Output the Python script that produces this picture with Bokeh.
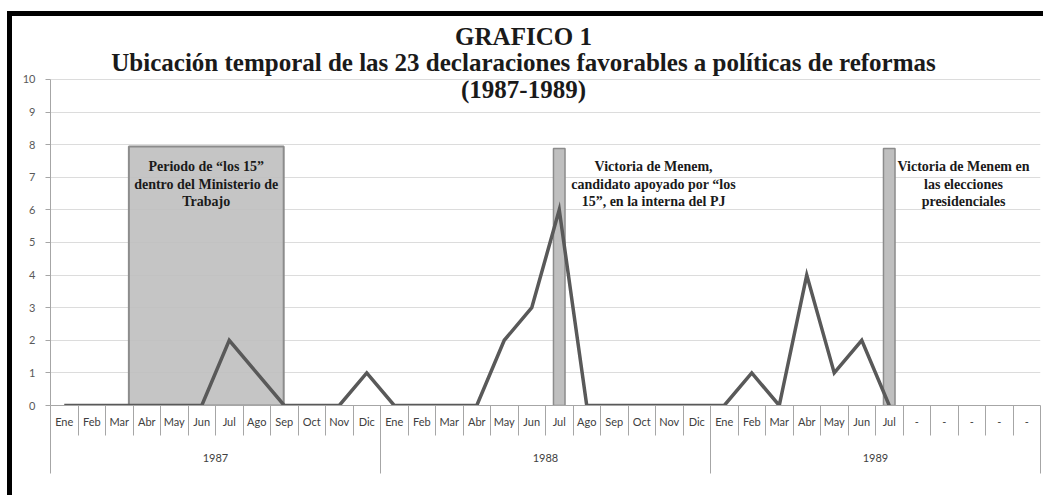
from bokeh.plotting import figure
from bokeh.models import Range1d, FixedTicker, LinearAxis, Label
from bokeh.embed import file_html
from bokeh.resources import INLINE

# ---- data ----
years = ["1987", "1988", "1989"]
months_1987 = ["Ene", "Feb", "Mar", "Abr", "May", "Jun", "Jul", "Ago", "Sep", "Oct", "Nov", "Dic"]
months_1988 = ["Ene", "Feb", "Mar", "Abr", "May", "Jun", "Jul", "Ago", "Sep", "Oct", "Nov", "Dic"]
months_1989 = ["Ene", "Feb", "Mar", "Abr", "May", "Jun", "Jul", "-", "-", "-", "-", "-"]
declaraciones_1987 = [0, 0, 0, 0, 0, 0, 2, 1, 0, 0, 0, 1]
declaraciones_1988 = [0, 0, 0, 0, 2, 3, 6, 0, 0, 0, 0, 0]
declaraciones_1989 = [0, 1, 0, 4, 1, 2, 0]
y_ticks = [0, 1, 2, 3, 4, 5, 6, 7, 8, 9, 10]
title_lines = ["GRAFICO 1",
               "Ubicación temporal de las 23 declaraciones favorables a políticas de reformas",
               "(1987-1989)"]
periodo_text = ["Periodo de \u201clos 15\u201d", "dentro del Ministerio de", "Trabajo"]
interna_text = ["Victoria de Menem,", "candidato apoyado por \u201clos", "15\u201d, en la interna del PJ"]
eleccion_text = ["Victoria de Menem en", "las elecciones", "presidenciales"]
event_months = [18, 30]          # Jul 1988, Jul 1989 (month index)

month_labels = months_1987 + months_1988 + months_1989
values = declaraciones_1987 + declaraciones_1988 + declaraciones_1989
n = len(month_labels)
centers = [i + 0.5 for i in range(n)]

p = figure(width=1036, height=484,
           x_range=Range1d(0, n), y_range=Range1d(0, 11.93),
           output_backend="svg", toolbar_location=None,
           min_border_left=38, min_border_right=8, min_border_top=0, min_border_bottom=95,
           background_fill_color="white", border_fill_color="white",
           styles={"margin-top": "11px", "margin-left": "7px",
                   "border-left": "5px solid black", "border-top": "5px solid black"})
p.title.visible = False
p.outline_line_color = None
p.xgrid.visible = False
p.ygrid.grid_line_color = "#dcdcdc"
p.ygrid.grid_line_width = 1

# y axis
yax = p.yaxis[0]
yax.ticker = FixedTicker(ticks=y_ticks)
yax.bounds = (0, 10)
yax.axis_line_color = "#a6a6a6"
yax.major_tick_line_color = "#a6a6a6"
yax.major_tick_out = 5
yax.major_tick_in = 0
yax.minor_tick_line_color = None
yax.major_label_standoff = 10
yax.major_label_text_font = "Lato"
yax.major_label_text_font_size = "11px"
yax.major_label_text_color = "#595959"

# month axis
xa = p.xaxis[0]
xa.ticker = FixedTicker(ticks=centers, minor_ticks=list(range(n + 1)))
xa.major_label_overrides = {c: lab for c, lab in zip(centers, month_labels)}
xa.axis_line_color = "#a6a6a6"
xa.major_tick_line_color = None
xa.major_tick_out = 0
xa.major_tick_in = 0
xa.minor_tick_line_color = "#a6a6a6"
xa.minor_tick_out = 0
xa.minor_tick_in = -30
xa.major_label_standoff = 9
xa.major_label_text_font = "Lato"
xa.major_label_text_font_size = "11px"
xa.major_label_text_color = "#404040"

# year axis
year_centers = [6, 18, 30]
yr = LinearAxis(ticker=FixedTicker(ticks=year_centers, minor_ticks=[0, 12, 24, 36]),
                major_label_overrides={c: y for c, y in zip(year_centers, years)})
yr.axis_line_color = None
yr.major_tick_line_color = None
yr.major_tick_out = 0
yr.major_tick_in = 0
yr.minor_tick_line_color = "#a6a6a6"
yr.minor_tick_out = 0
yr.minor_tick_in = -43
yr.major_label_standoff = 23
yr.major_label_text_font = "Lato"
yr.major_label_text_font_size = "11px"
yr.major_label_text_color = "#404040"
p.add_layout(yr, "below")

# shaded period (Abr-Sep 1987) and event bars
p.quad(left=2.85, right=8.48, bottom=0, top=7.94,
       fill_color="#bfbfbf", fill_alpha=0.9, line_color="#8c8c8c", line_width=2)
p.vbar(x=[event_months[0] + 0.5, event_months[1] + 0.5], width=0.42, bottom=0, top=7.88,
       fill_color="#bfbfbf", line_color="#8c8c8c", line_width=1.5)

# series
p.line(centers[:len(values)], values, line_color="#595959", line_width=3.5, line_join="miter")

# title
serif = "Liberation Serif"
for txt, yy in zip(title_lines, [11.32, 10.52, 9.69]):
    p.add_layout(Label(x=17.2, y=yy, text=txt, text_align="center", text_baseline="middle",
                       text_font=serif, text_font_style="bold", text_font_size="25px",
                       text_color="#1a1a1a"))

# annotations
for lines, xx in [(periodo_text, 5.66), (interna_text, 21.93), (eleccion_text, 33.2)]:
    for txt, yy in zip(lines, [7.33, 6.78, 6.26]):
        p.add_layout(Label(x=xx, y=yy, text=txt, text_align="center", text_baseline="middle",
                           text_font=serif, text_font_style="bold", text_font_size="14px",
                           text_color="#1a1a1a"))

open("out.html", "w").write(file_html(p, INLINE))
